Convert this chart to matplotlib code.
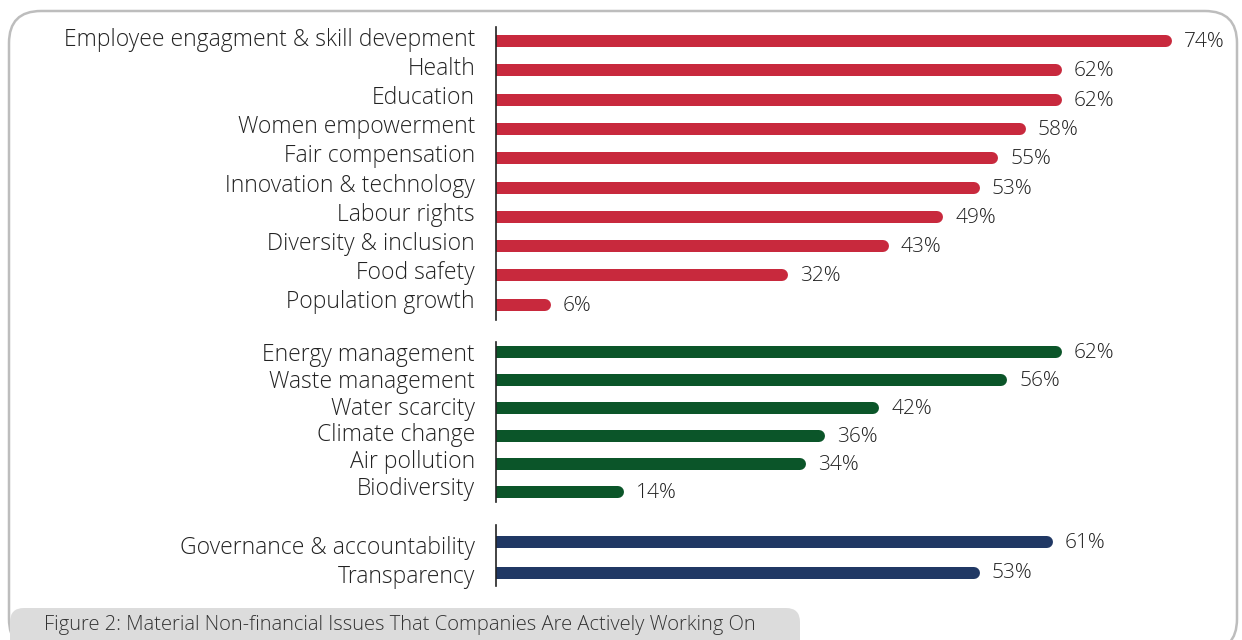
import matplotlib.pyplot as plt
from matplotlib.patches import FancyBboxPatch

RED = "#C8293D"
GREEN = "#0B5529"
NAVY = "#203864"
TEXT = "#222222"

social_labels = [
    "Employee engagment & skill devepment",
    "Health",
    "Education",
    "Women empowerment",
    "Fair compensation",
    "Innovation & technology",
    "Labour rights",
    "Diversity & inclusion",
    "Food safety",
    "Population growth",
]
social_values = [74, 62, 62, 58, 55, 53, 49, 43, 32, 6]

env_labels = [
    "Energy management",
    "Waste management",
    "Water scarcity",
    "Climate change",
    "Air pollution",
    "Biodiversity",
]
env_values = [62, 56, 42, 36, 34, 14]

gov_labels = ["Governance & accountability", "Transparency"]
gov_values = [61, 53]

caption = "Figure 2: Material Non-financial Issues That Companies Are Actively Working On"

W, H = 1242, 640
PX_PER_PCT = 9.13
X0 = 496

plt.rcParams["font.family"] = ["Open Sans", "DejaVu Sans"]

fig = plt.figure(figsize=(W / 100, H / 100), dpi=100)

# background layer in pixel units: rounded frame and caption tab
bg = fig.add_axes([0, 0, 1, 1], zorder=0)
bg.set_xlim(0, W)
bg.set_ylim(H, 0)
bg.axis("off")
bg.add_patch(FancyBboxPatch((9, 11), 1228, 640, boxstyle="round,pad=0,rounding_size=32",
                            facecolor="white", edgecolor="#BDBDBD", lw=1.8))
bg.add_patch(FancyBboxPatch((10, H - 32), 790, 60, boxstyle="round,pad=0,rounding_size=14",
                            facecolor="#DCDCDC", edgecolor="none"))
bg.text(44, 625, caption, ha="left", va="center", fontsize=14.5, color="#333333",
        fontweight="light")

ax = fig.add_axes([0, 0, 1, 1], zorder=1)
ax.patch.set_alpha(0)
ax.set_xlim(-X0 / PX_PER_PCT, (W - X0) / PX_PER_PCT)
ax.set_ylim(H, 0)
ax.axis("off")

bar_h = 12
r = bar_h / 2 / PX_PER_PCT  # cap radius in data units


def draw_group(labels, values, y_start, step, lab_start, lab_step, color,
               axis_top, axis_bottom):
    ax.plot([0, 0], [axis_top, axis_bottom], color="#222222", lw=1.2)
    for i, (lab, val) in enumerate(zip(labels, values)):
        y = y_start + i * step
        ax.barh(y, val - r, height=bar_h, left=0, color=color, lw=0)
        ax.plot([val - 2 * r, val - r], [y, y], color=color, lw=bar_h * 0.72,
                solid_capstyle="round")
        ax.text(-21 / PX_PER_PCT, lab_start + i * lab_step, lab, ha="right",
                va="center", fontsize=16.5, color=TEXT, fontweight="light")
        ax.text(val + 12 / PX_PER_PCT, y + 1, f"{val}%", ha="left", va="center",
                fontsize=15, color=TEXT, fontweight="light")


draw_group(social_labels, social_values, 41, 29.3, 40, 29.1, RED, 27, 320)
draw_group(env_labels, env_values, 352, 28, 355, 26.8, GREEN, 342, 502)
draw_group(gov_labels, gov_values, 542, 30.5, 548, 29, NAVY, 525, 586)

fig.savefig("out.png", dpi=100)
